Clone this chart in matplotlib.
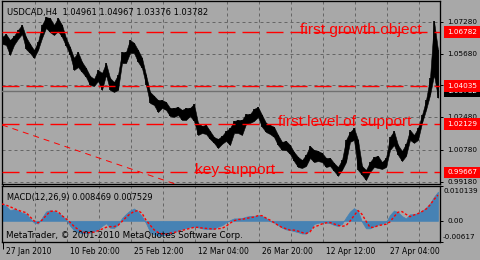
#plot.py
#USDCAD H4 chart with MACD, metatrader look
import matplotlib
matplotlib.use("Agg")
import matplotlib.pyplot as plt
import matplotlib.transforms as mtransforms
from matplotlib import font_manager
import numpy as np

W, H = 480, 260
PX = 0.72  # one pixel in points at dpi 100

#price, one sample every 4 H4 bars
bar_step = 4
price_high = [
    1.0652, 1.0667, 1.0637, 1.0657, 1.0688, 1.0713, 1.0652, 1.0617, 1.0586, 1.0627,
    1.0713, 1.0753, 1.0748, 1.0713, 1.0748, 1.0713, 1.0647, 1.0601, 1.0546, 1.0576,
    1.0526, 1.0495, 1.0455, 1.0440, 1.0485, 1.0470, 1.0520, 1.0445, 1.0424, 1.0460,
    1.0576, 1.0576, 1.0637, 1.0622, 1.0586, 1.0546, 1.0460, 1.0374, 1.0354, 1.0333,
    1.0333, 1.0323, 1.0293, 1.0293, 1.0298, 1.0283, 1.0293, 1.0293, 1.0313, 1.0217,
    1.0202, 1.0207, 1.0176, 1.0146, 1.0136, 1.0151, 1.0176, 1.0191, 1.0227, 1.0232,
    1.0232, 1.0262, 1.0262, 1.0288, 1.0298, 1.0257, 1.0217, 1.0207, 1.0197, 1.0156,
    1.0121, 1.0126, 1.0105, 1.0070, 1.0045, 1.0029, 1.0055, 1.0100, 1.0080, 1.0075,
    1.0065, 1.0040, 1.0040, 1.0014, 0.9994, 1.0029, 1.0131, 1.0171, 1.0191, 1.0131,
    0.9999, 0.9979, 1.0019, 1.0045, 1.0050, 1.0019, 1.0040, 1.0146, 1.0176, 1.0105,
    1.0075, 1.0111, 1.0181, 1.0156, 1.0191, 1.0257, 1.0333, 1.0445, 1.0733, 1.0586,
]
price_low = [
    1.0617, 1.0612, 1.0561, 1.0612, 1.0642, 1.0667, 1.0591, 1.0571, 1.0546, 1.0586,
    1.0647, 1.0698, 1.0677, 1.0662, 1.0682, 1.0652, 1.0607, 1.0561, 1.0485, 1.0500,
    1.0475, 1.0450, 1.0409, 1.0404, 1.0429, 1.0384, 1.0460, 1.0384, 1.0374, 1.0384,
    1.0520, 1.0520, 1.0571, 1.0571, 1.0526, 1.0495, 1.0409, 1.0318, 1.0308, 1.0272,
    1.0293, 1.0283, 1.0252, 1.0247, 1.0257, 1.0232, 1.0232, 1.0252, 1.0227, 1.0156,
    1.0166, 1.0161, 1.0136, 1.0116, 1.0090, 1.0111, 1.0126, 1.0105, 1.0166, 1.0166,
    1.0156, 1.0212, 1.0217, 1.0227, 1.0247, 1.0197, 1.0171, 1.0161, 1.0146, 1.0105,
    1.0080, 1.0080, 1.0060, 1.0024, 0.9994, 0.9989, 0.9999, 1.0040, 1.0019, 1.0024,
    1.0019, 0.9994, 0.9999, 0.9974, 0.9949, 0.9979, 1.0019, 1.0121, 1.0131, 0.9979,
    0.9954, 0.9928, 0.9969, 0.9994, 0.9989, 0.9984, 0.9994, 1.0080, 1.0105, 1.0055,
    1.0024, 1.0050, 1.0131, 1.0116, 1.0131, 1.0217, 1.0283, 1.0358, 1.0460, 1.0344,
]

#MACD(12,26,9) main histogram and signal
macd_main = [
    0.0051, 0.0043, 0.0031, 0.0034, 0.0030, 0.0024, 0.0020, 0.0007, -0.0005, -0.0008,
    0.0009, 0.0027, 0.0031, 0.0028, 0.0023, 0.0015, 0.0004, -0.0014, -0.0028, -0.0033,
    -0.0036, -0.0036, -0.0034, -0.0031, -0.0024, -0.0015, -0.0007, -0.0020, -0.0021, -0.0011,
    0.0008, 0.0020, 0.0030, 0.0036, 0.0027, 0.0013, -0.0007, -0.0032, -0.0040, -0.0043,
    -0.0043, -0.0041, -0.0038, -0.0033, -0.0028, -0.0024, -0.0021, -0.0018, -0.0017, -0.0019,
    -0.0022, -0.0024, -0.0024, -0.0023, -0.0017, -0.0013, -0.0005, 0.0002, 0.0007, 0.0007,
    0.0008, 0.0012, 0.0014, 0.0014, 0.0016, 0.0014, 0.0008, -0.0001, -0.0005, -0.0012,
    -0.0020, -0.0025, -0.0027, -0.0030, -0.0033, -0.0037, -0.0037, -0.0027, -0.0009, -0.0006,
    -0.0004, -0.0005, -0.0007, -0.0012, -0.0015, -0.0009, 0.0010, 0.0027, 0.0037, 0.0029,
    -0.0003, -0.0022, -0.0022, -0.0016, -0.0011, -0.0009, -0.0004, 0.0017, 0.0030, 0.0025,
    0.0014, 0.0007, 0.0019, 0.0019, 0.0023, 0.0029, 0.0038, 0.0051, 0.0070, 0.0085,
]
macd_signal = [
    0.0049, 0.0046, 0.0041, 0.0036, 0.0031, 0.0027, 0.0024, 0.0012, 0.0000, -0.0006,
    0.0002, 0.0015, 0.0027, 0.0029, 0.0027, 0.0015, 0.0006, -0.0004, -0.0016, -0.0025,
    -0.0032, -0.0035, -0.0034, -0.0033, -0.0029, -0.0024, -0.0019, -0.0017, -0.0017, -0.0013,
    -0.0002, 0.0010, 0.0020, 0.0027, 0.0030, 0.0022, 0.0002, -0.0012, -0.0026, -0.0034,
    -0.0038, -0.0039, -0.0036, -0.0034, -0.0031, -0.0028, -0.0025, -0.0022, -0.0019, -0.0019,
    -0.0021, -0.0022, -0.0023, -0.0024, -0.0023, -0.0022, -0.0016, -0.0007, 0.0000, 0.0004,
    0.0004, 0.0007, 0.0009, 0.0011, 0.0015, 0.0015, 0.0008, 0.0002, -0.0005, -0.0013,
    -0.0019, -0.0023, -0.0027, -0.0027, -0.0030, -0.0034, -0.0037, -0.0032, -0.0018, -0.0014,
    -0.0009, -0.0006, -0.0005, -0.0009, -0.0013, -0.0016, -0.0014, -0.0001, 0.0015, 0.0030,
    0.0019, -0.0001, -0.0019, -0.0019, -0.0014, -0.0012, -0.0010, -0.0003, 0.0012, 0.0025,
    0.0027, 0.0019, 0.0012, 0.0017, 0.0021, 0.0027, 0.0034, 0.0046, 0.0062, 0.0075,
]

title = "USDCAD,H4  1.04961 1.04967 1.03376 1.03782"
macd_title = "MACD(12,26,9) 0.008469 0.007529"
copyright = "MetaTrader, \u00a9 2001-2010 MetaQuotes Software Corp."
last_close = 1.03782
macd_max = 0.010139
macd_min = -0.00617

#horizontal levels drawn by hand
levels = [1.06782, 1.04035, 1.02129, 0.99667]
level_text = ["first growth object", "", "first level of support", "key support"]
level_text_bar = [298, 0, 276, 193]
level_text_px = [122, 0, 134, 80]

#falling trend line
trend_bars = [0, 176]
trend_prices = [1.0207, 0.9903]

#axes scales
grid_prices = [1.07280, 1.05680, 1.04080, 1.02480, 1.00780, 0.99180]
grid_labels = ["1.07280", "1.05680", "1.04080", "1.02480", "1.00780", "0.99180"]
grid_bars = list(range(33, 430, 32))
date_bars = [1, 65, 129, 193, 257, 321, 385]
date_labels = ["27 Jan 2010", "10 Feb 20:00", "25 Feb 12:00", "12 Mar 04:00",
               "26 Mar 20:00", "12 Apr 12:00", "27 Apr 04:00"]

bg = "#A8A8A8"
grid_col = "#666666"
red = "#FF0000"
blue = "#4682B4"

plt.rcParams["lines.scale_dashes"] = False
names = {f.name for f in font_manager.fontManager.ttflist}
ui_font = "Liberation Sans Narrow" if "Liberation Sans Narrow" in names else "DejaVu Sans"
obj_font = "Liberation Sans" if "Liberation Sans" in names else "DejaVu Sans"

fig = plt.figure(figsize=(W / 100, H / 100), dpi=100, facecolor=bg)
renderer = fig.canvas.get_renderer()


def px_rect(left, top, right, bottom):
    return [left / W, 1 - bottom / H, (right - left) / W, (bottom - top) / H]


def fx(x):
    return x / W


def fy(y):
    return 1 - y / H


def fit(t, width_px):
    w = t.get_window_extent(renderer).width
    t.set_fontsize(t.get_fontsize() * width_px / w)
    return t.get_fontsize()


ax = fig.add_axes(px_rect(2, 1, 440, 184))
ax2 = fig.add_axes(px_rect(2, 186, 440, 242), sharex=ax)

bars = np.arange(len(price_high)) * bar_step
for a in (ax, ax2):
    a.set_facecolor(bg)
    for s in a.spines.values():
        s.set_linewidth(1.0 * PX * 1.3)
        s.set_color("black")
ax.set_xlim(0, 438)
ax.set_ylim(0.99079, 1.08343)
ax2.set_ylim(macd_min, macd_max)

#grid
ax.set_xticks(grid_bars)
ax.tick_params(axis="x", length=0, labelbottom=False)
ax.yaxis.tick_right()
ax.set_yticks(grid_prices)
ax.set_yticklabels([])
ax.tick_params(axis="y", length=3 * PX, width=PX, color="black")
ax.grid(True, color=grid_col, lw=PX, ls=(0, (3 * PX, 3 * PX)))
ax2.tick_params(axis="x", length=0, labelbottom=False)
ax2.set_xticks(date_bars, minor=True)
ax2.tick_params(axis="x", which="minor", length=7 * PX, width=PX, direction="out")
ax2.xaxis.grid(True, color=grid_col, lw=PX, ls=(0, (3 * PX, 3 * PX)))
ax2.yaxis.tick_right()
ax2.set_yticks([macd_max, 0, macd_min])
ax2.set_yticklabels([])
ax2.tick_params(axis="y", length=3 * PX, width=PX)

#price
ax.fill_between(bars, price_low, price_high, color="black", lw=0.4, zorder=4)
ax.vlines(bars, price_low, price_high, color="black", lw=1.2, zorder=4)
ax.axhline(last_close, color="#707070", lw=1.0, zorder=3)
for lv in levels:
    ax.axhline(lv, color=red, lw=1.0, ls=(0, (17 * PX, 7 * PX)), zorder=5)
ax.plot(trend_bars, trend_prices, color=red, lw=0.7, ls=(0, (6 * PX, 5 * PX)), zorder=5)

down = mtransforms.offset_copy(ax.transData, fig=fig, x=0, y=-2, units="dots")
for lv, s, b, wpx in zip(levels, level_text, level_text_bar, level_text_px):
    if s:
        t = ax.text(b, lv, s, color=red, family=obj_font, fontsize=10,
                    va="baseline", ha="left", transform=down, zorder=6)
        fit(t, wpx)

#macd
ax2.fill_between(bars, 0, macd_main, color=blue, lw=0.5, zorder=2)
ax2.plot(bars, macd_signal, color=red, lw=1.0, ls=(0, (2.5 * PX, 2 * PX)), zorder=3)

#texts
t = fig.text(fx(7), fy(15), title, family=ui_font, fontsize=8, va="baseline")
fit(t, 202)
t = fig.text(fx(7), fy(200), macd_title, family=ui_font, fontsize=8, va="baseline")
fit(t, 147)
t = fig.text(fx(6), fy(238.5), copyright, family=ui_font, fontsize=8, va="baseline", zorder=10)
fit(t, 239)

t = fig.text(0, 0, date_labels[0], family=ui_font, fontsize=8)
date_fs = fit(t, 46)
t.remove()
t = fig.text(0, 0, grid_labels[0], family=ui_font, fontsize=8)
axis_fs = fit(t, 30)
t.remove()

date_tr = mtransforms.blended_transform_factory(ax2.transData, fig.transFigure)
for b, s in zip(date_bars, date_labels):
    t = ax2.text(b, fy(254), s, family=ui_font, fontsize=date_fs, va="baseline",
                 ha="left", transform=date_tr, clip_on=False)
    t.set_transform(date_tr + mtransforms.ScaledTranslation(3 / 100, 0, fig.dpi_scale_trans))

right_tr = mtransforms.blended_transform_factory(fig.transFigure, ax.transData)
for p, s in zip(grid_prices, grid_labels):
    ax.text(fx(447), p, s, family=ui_font, fontsize=axis_fs, va="center",
            ha="left", transform=right_tr, clip_on=False)
ax.text(fx(447), last_close, "%.5f" % last_close, family=ui_font, fontsize=axis_fs,
        va="center", ha="left", color="white", transform=right_tr, clip_on=False, zorder=11,
        bbox=dict(boxstyle="square,pad=0.38", fc="black", ec="none"))
for lv in levels:
    ax.text(fx(447), lv, "%.5f" % lv, family=ui_font, fontsize=axis_fs, va="center",
            ha="left", color="white", transform=right_tr, clip_on=False, zorder=12,
            bbox=dict(boxstyle="square,pad=0.38", fc=red, ec="none"))

right_tr2 = mtransforms.blended_transform_factory(fig.transFigure, ax2.transData)
ax2.text(fx(444), macd_max, "%.6f" % macd_max, family=ui_font, fontsize=axis_fs,
         va="top", ha="left", transform=right_tr2 + mtransforms.ScaledTranslation(0, -2 / 100, fig.dpi_scale_trans),
         clip_on=False)
ax2.text(fx(447), 0, "0.00", family=ui_font, fontsize=axis_fs, va="center", ha="left",
         transform=right_tr2, clip_on=False)
ax2.text(fx(443), macd_min, "%.5f" % macd_min, family=ui_font, fontsize=axis_fs,
         va="bottom", ha="left", transform=right_tr2 + mtransforms.ScaledTranslation(0, 2 / 100, fig.dpi_scale_trans),
         clip_on=False)

fig.savefig("out.png", dpi=100, facecolor=bg)
